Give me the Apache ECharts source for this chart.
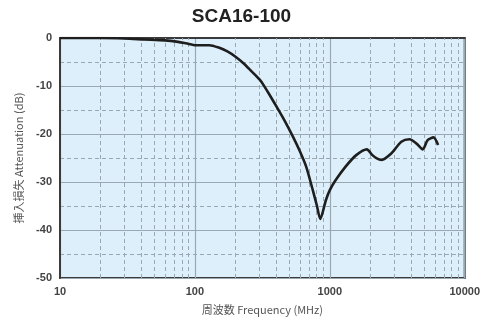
<!DOCTYPE html>
<html>
<head>
<meta charset="utf-8">
<script src="https://cdn.jsdelivr.net/npm/echarts@6/dist/echarts.min.js"></script>
<style>
  html, body { margin: 0; padding: 0; background: #fff; }
  #chart { width: 483px; height: 322px; }
</style>
</head>
<body>
<div id="chart"></div>
<script>
// frequency (MHz) and attenuation (dB)
const freqMHz = [10, 20, 30, 42, 60, 75, 86, 102, 128, 150, 174, 200, 230, 260, 305, 350, 403, 460, 534, 600, 668, 748, 800, 850, 935, 1000, 1106, 1309, 1570, 1884, 2050, 2230, 2422, 2866, 3390, 3900, 4400, 4880, 5310, 5875, 6350];
const attenDb = [0, 0, -0.1, -0.3, -0.5, -0.8, -1.1, -1.5, -1.5, -2.0, -2.8, -3.9, -5.3, -6.8, -8.8, -11.4, -14.3, -17.1, -20.6, -23.6, -26.8, -31.7, -34.8, -37.7, -33.8, -31.7, -29.6, -26.8, -24.4, -23.2, -24.3, -25.1, -25.4, -24.0, -21.6, -21.1, -22.0, -23.2, -21.3, -20.7, -22.3];

// dashed vertical grid at 2..9 of each decade
const minorFreqs = [20, 30, 40, 50, 60, 70, 80, 90, 200, 300, 400, 500, 600, 700, 800, 900, 2000, 3000, 4000, 5000, 6000, 7000, 8000, 9000];
const xTicks = [10, 100, 1000, 10000];

const chart = echarts.init(document.getElementById('chart'));
const gridLine = '#9aa8b2';

chart.setOption({
  animation: false,
  title: {
    text: 'SCA16-100',
    left: 'center',
    top: 2,
    textStyle: { fontFamily: 'Liberation Sans, Arial, sans-serif', fontSize: 19, fontWeight: 'bold', color: '#222' }
  },
  grid: {
    left: 60, right: 12, top: 38, bottom: 44,
    show: true,
    backgroundColor: '#ddeffa',
    borderColor: '#3a3a3a',
    borderWidth: 2
  },
  xAxis: {
    type: 'log',
    logBase: 10,
    min: 10,
    max: 10000,
    name: '周波数 Frequency (MHz)',
    nameLocation: 'middle',
    nameGap: 26,
    nameTextStyle: { fontFamily: 'Noto Sans CJK JP, sans-serif', fontSize: 11, color: '#555' },
    axisLine: { lineStyle: { color: '#3a3a3a', width: 2 } },
    axisTick: { show: false },
    axisLabel: {
      fontFamily: 'Liberation Sans, Arial, sans-serif', fontSize: 11, fontWeight: 'bold', color: '#444', margin: 8,
      formatter: v => (xTicks.includes(Math.round(v)) ? String(Math.round(v)) : '')
    },
    splitLine: { show: true, lineStyle: { color: gridLine, width: 1.2 } }
  },
  yAxis: {
    type: 'value',
    min: -50,
    max: 0,
    interval: 10,
    name: '挿入損失 Attenuation (dB)',
    nameLocation: 'middle',
    nameGap: 36,
    nameTextStyle: { fontFamily: 'Noto Sans CJK JP, sans-serif', fontSize: 11, color: '#555' },
    axisLine: { lineStyle: { color: '#3a3a3a', width: 2 } },
    axisTick: { show: false },
    axisLabel: { fontFamily: 'Liberation Sans, Arial, sans-serif', fontSize: 11, fontWeight: 'bold', color: '#444', margin: 8 },
    splitLine: { show: true, lineStyle: { color: gridLine, width: 1.2 } },
    minorTick: { show: false, splitNumber: 2 },
    minorSplitLine: { show: true, lineStyle: { color: gridLine, type: [4, 3], width: 1 } }
  },
  series: [{
    type: 'line',
    data: freqMHz.map((f, i) => [f, attenDb[i]]),
    smooth: 0.25,
    symbol: 'none',
    lineStyle: { color: '#1e1e1e', width: 2.6 },
    z: 5,
    markLine: {
      silent: true,
      symbol: 'none',
      label: { show: false },
      lineStyle: { color: gridLine, type: [4, 3], width: 1 },
      data: minorFreqs.map(f => ({ xAxis: f }))
    }
  }]
});
</script>
</body>
</html>
